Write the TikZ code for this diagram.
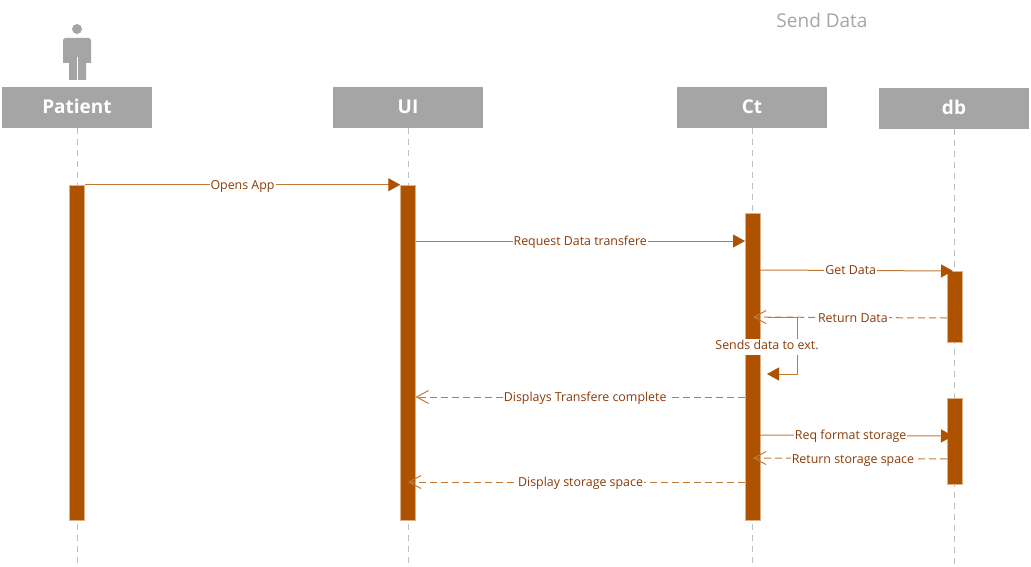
\documentclass[tikz,border=0pt]{standalone}
\usepackage{fontspec}
\setmainfont{Open Sans}
\usepackage{pgf, tikz}
\usetikzlibrary{arrows.meta}
\pgfdeclarelayer{edgelayer}
\pgfdeclarelayer{nodelayer}
\pgfsetlayers{edgelayer,nodelayer,main}
\definecolor{headgrey}{HTML}{A5A5A5}
\definecolor{barbrown}{HTML}{AE5200}
\definecolor{linebrown}{HTML}{C07A38}
\definecolor{textbrown}{HTML}{8A3C08}
\tikzstyle{head}=[rectangle, fill=headgrey, text=white, minimum width=150pt, minimum height=41pt, inner sep=0pt, text depth=2pt, font=\fontsize{19}{19}\selectfont\bfseries]
\tikzstyle{bar}=[rectangle, fill=barbrown, draw=barbrown!45!white, line width=0.5pt, minimum width=15pt, inner sep=0pt]
\tikzstyle{lifeline}=[draw=black!25, line width=1pt, dash pattern=on 6pt off 5pt]
\tikzstyle{call}=[draw=linebrown, line width=1pt, -{Triangle[length=12pt,width=13pt,color=barbrown]}]
\tikzstyle{reply}=[draw=linebrown, line width=1pt, dash pattern=on 7pt off 4pt, -{Straight Barb[length=12pt,width=13pt]}]
\tikzstyle{msg}=[fill=white, text=textbrown, inner xsep=1pt, inner ysep=1pt, text height=9pt, text depth=3pt, yshift=-1.5pt, font=\fontsize{12.4}{13}\selectfont]

\begin{document}
\begin{tikzpicture}[x=1pt, y=-1pt]
				\useasboundingbox (0, 0) rectangle (1031, 567);
				\begin{pgfonlayer}{nodelayer}
					\node [style=head] (patient) at (77, 107.5) {Patient};
					\node [style=head] (ui) at (408, 107.5) {UI};
					\node [style=head] (ct) at (752, 107.5) {Ct};
					\node [style=head] (db) at (954, 108.5) {db};
					\node [style=bar, minimum height=335pt] (barpatient) at (77, 352.5) {};
					\node [style=bar, minimum height=335pt] (barui) at (408, 352.5) {};
					\node [style=bar, minimum height=307pt] (barct) at (752.5, 366.5) {};
					\node [style=bar, minimum height=71pt] (bardb) at (954.5, 306.5) {};
					\node [style=bar, minimum height=86pt] (bardbb) at (954.5, 441) {};
				\end{pgfonlayer}
				\coordinate (patientend) at (77, 565);
				\coordinate (uiend) at (408, 565);
				\coordinate (ctend) at (752, 565);
				\coordinate (dbend) at (954, 565);
				\coordinate (requi) at (415.5, 241);
				\coordinate (reqct) at (745, 241);
				\coordinate (getct) at (760, 270);
				\coordinate (getdb) at (953, 271);
				\coordinate (retdb) at (947, 318);
				\coordinate (retct) at (753, 317);
				\coordinate (selfa) at (768, 317);
				\coordinate (selfb) at (797, 317);
				\coordinate (selfc) at (797, 374);
				\coordinate (selfd) at (767, 374);
				\coordinate (donect) at (745, 397);
				\coordinate (doneui) at (415.5, 397);
				\coordinate (fmtct) at (760, 435);
				\coordinate (fmtdb) at (953, 436);
				\coordinate (spacedb) at (947, 459);
				\coordinate (spacect) at (753, 458);
				\coordinate (showct) at (745, 482);
				\coordinate (showui) at (408, 482);
				\begin{pgfonlayer}{edgelayer}
					\draw [style=lifeline] (patient) to (patientend);
					\draw [style=lifeline] (ui) to (uiend);
					\draw [style=lifeline] (ct) to (ctend);
					\draw [style=lifeline] (db) to (dbend);
				\end{pgfonlayer}
				% actor
				\fill [headgrey] (77, 29) circle (5);
				\fill [headgrey] (65, 38) -- (89, 38) -- (91, 40) -- (91, 63) -- (86, 63) -- (86, 80) -- (69, 80) -- (69, 63) -- (63, 63) -- (63, 40) -- cycle;
				\draw [white, line width=1pt] (77, 57) -- (77, 80);
				\node [text=headgrey, font=\fontsize{19}{19}\selectfont] (title) at (822, 20) {Send Data};
				\draw [style=call] (barpatient.north east) to node [style=msg] (opens) {Opens App} (barui.north west);
				\draw [style=call] (requi) to node [style=msg] (request) {Request Data transfere} (reqct);
				\draw [style=call] (getct) to node [style=msg, pos=0.47] (get) {Get Data} (getdb);
				\draw [style=reply] (retdb) to node [style=msg, pos=0.485] (return) {Return Data} (retct);
				\draw [style=call] (selfa) to (selfb) to (selfc) to (selfd);
				\node [style=msg, inner ysep=2pt] (sends) at (767, 345) {Sends data to ext.};
				\draw [style=reply] (donect) to node [style=msg, pos=0.485] (displays) {Displays Transfere complete} (doneui);
				\draw [style=call] (fmtct) to node [style=msg, pos=0.47] (format) {Req format storage} (fmtdb);
				\draw [style=reply] (spacedb) to node [style=msg, pos=0.485] (space) {Return storage space} (spacect);
				\draw [style=reply] (showct) to node [style=msg, pos=0.488] (show) {Display storage space} (showui);
\end{tikzpicture}
\end{document}
